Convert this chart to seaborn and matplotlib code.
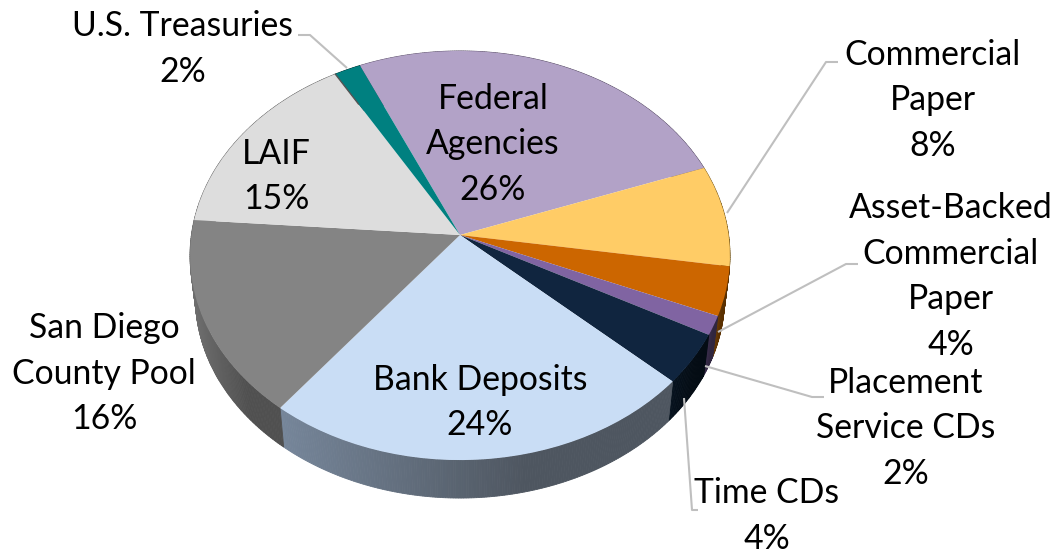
import numpy as np
import matplotlib
matplotlib.use("Agg")
import matplotlib.pyplot as plt
from matplotlib.transforms import Transform
import seaborn as sns

# --- data ---
categories = ["Federal\nAgencies", "Commercial\nPaper", "Asset-Backed\nCommercial\nPaper",
              "Placement\nService CDs", "Time CDs", "Bank Deposits",
              "San Diego\nCounty Pool", "LAIF", "U.S. Treasuries"]
shares = [26.1, 8.0, 3.85, 1.5, 4.0, 23.8, 15.6, 15.4, 1.75]
share_labels = ["26%", "8%", "4%", "2%", "4%", "24%", "16%", "15%", "2%"]
face_colors = ["#B2A2C7", "#FFCC66", "#CC6600", "#8064A2", "#10253F",
               "#C9DDF5", "#848484", "#DDDDDD", "#008080"]
side_light = ["#6B5F78", "#8A6C30", "#6A3C08", "#3A2E4C", "#06121E",
              "#76869A", "#707070", "#777777", "#004444"]
side_dark = ["#5B5068", "#7A5C20", "#5A3000", "#30263F", "#040C14",
             "#4E5660", "#505050", "#666666", "#003333"]

# --- layout (pixels) ---
W, H = 1057, 555
CX, CY = 460.0, 235.0
RX, RY, PERSP = 268.6, 202.5, 0.1002
RIM_SCALE, RIM_DROP = 0.98, 42.5

label_xy = [(493, 144.5), (933, 100.5), (951, 276.5), (906, 428.5), (767, 516),
            (480, 402.5), (104, 373.5), (276, 176.5), (183, 49)]
leaders = [
    [(298, 35), (310, 35), (347, 68)],
    [(838, 62), (826, 62), (727, 213)],
    [(858, 264), (846, 264), (718, 332)],
    [(824, 397), (812, 397), (705, 366)],
    [(698, 510), (692, 510), (684, 398)],
]


def project(xy, scale=1.0, drop=0.0):
    u, v = xy[:, 0], xy[:, 1]
    d = 1 + PERSP * v
    return np.column_stack([CX + scale * RX * u / d,
                            CY - scale * RY * v / d + drop])


class PieProjection(Transform):
    input_dims = output_dims = 2
    has_inverse = False

    def transform_non_affine(self, values):
        return project(np.asarray(values))


sns.set_theme(style="white")
plt.rcParams["font.family"] = ["Lato", "DejaVu Sans"]

fig = plt.figure(figsize=(W / 100, H / 100), dpi=100, facecolor="white")
ax = fig.add_axes([0, 0, 1, 1])
palette = sns.color_palette(face_colors)
wedges, _ = ax.pie(shares, colors=palette, startangle=114.0, counterclock=False,
                   wedgeprops={"linewidth": 0, "zorder": 3})
proj = PieProjection()
for w in wedges:
    w.set_transform(proj + ax.transData)
ax.set_aspect("auto")
ax.set_xlim(0, W)
ax.set_ylim(H, 0)
ax.axis("off")

# side wall, shaded along the rim
for w, c0, c1 in zip(wedges, side_light, side_dark):
    a = np.linspace(w.theta1, w.theta2, max(3, int((w.theta2 - w.theta1) * 2)))
    unit = np.column_stack([np.cos(np.radians(a)), np.sin(np.radians(a))])
    top = project(unit)
    low = project(unit, RIM_SCALE, RIM_DROP)
    rgb0, rgb1 = np.array(matplotlib.colors.to_rgb(c0)), np.array(matplotlib.colors.to_rgb(c1))
    for i in range(len(a) - 1):
        t = (top[i, 0] - top[:, 0].min()) / max(1e-6, np.ptp(top[:, 0]))
        col = rgb0 + (rgb1 - rgb0) * np.clip(t * 1.6, 0, 1)
        ax.fill([top[i, 0], top[i + 1, 0], low[i + 1, 0], low[i, 0]],
                [top[i, 1], top[i + 1, 1], low[i + 1, 1], low[i, 1]],
                color=col, lw=0.6, zorder=1)

# thin dark edge where the LAIF slice meets the Treasuries slice
edge_angle = np.radians(wedges[-1].theta2)
edge = project(np.array([[np.cos(edge_angle), np.sin(edge_angle)],
                         [0.80 * np.cos(edge_angle), 0.80 * np.sin(edge_angle)]]))
ax.plot(edge[:, 0], edge[:, 1], color="#555555", lw=1.0, zorder=4)

for path in leaders:
    xs, ys = zip(*path)
    ax.plot(xs, ys, color="#BFBFBF", lw=1.5, zorder=2, solid_capstyle="butt")

for name, pct, (x, y) in zip(categories, share_labels, label_xy):
    ax.text(x, y, f"{name}\n{pct}", ha="center", va="center", fontsize=24.3,
            color="black", linespacing=1.53, zorder=5)

fig.savefig("out.png", dpi=100, facecolor="white")
